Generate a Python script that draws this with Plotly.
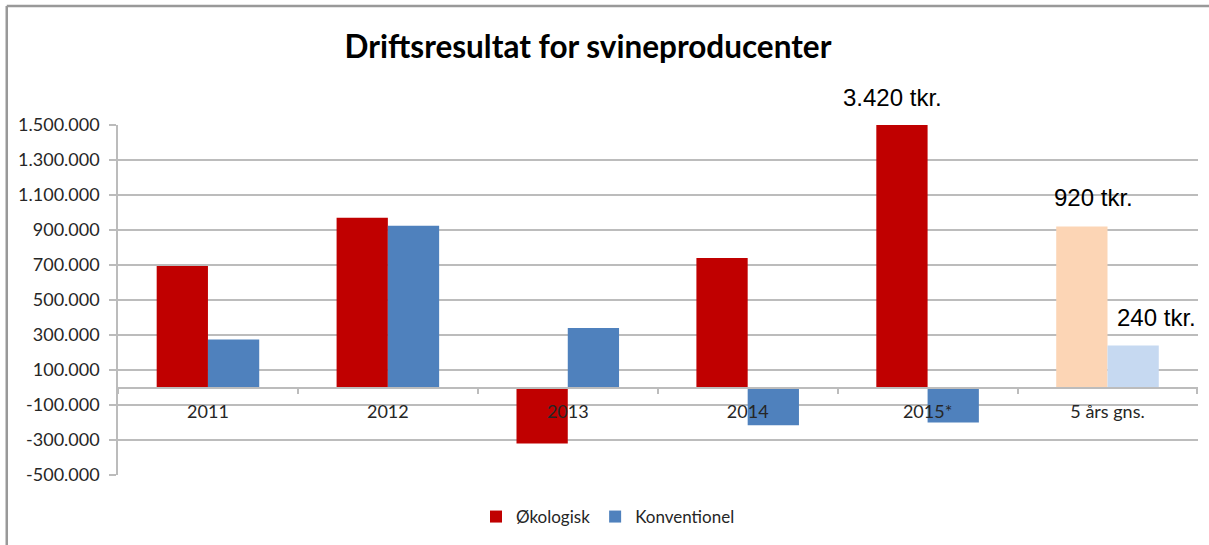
import plotly.graph_objects as go

categories = ["2011", "2012", "2013", "2014", "2015*", "5 års gns."]
okologisk = [695000, 970000, -320000, 740000, 3420000, 920000]
konventionel = [275000, 925000, 340000, -215000, -200000, 240000]
okologisk_colors = ["#C00000"] * 5 + ["#FCD5B5"]
konventionel_colors = ["#4F81BD"] * 5 + ["#C6D9F1"]
y_ticks = list(range(-500000, 1500001, 200000))
y_ticktext = [f"{v:,}".replace(",", ".") for v in y_ticks]
title_text = "Driftsresultat for svineproducenter"
labels = [("3.420 tkr.", "2015*", 1500000, -35, 28),
          ("920 tkr.", "5 års gns.", 920000, -14, 29),
          ("240 tkr.", "5 års gns.", 240000, 49, 28)]

GRID = "#BCBCBC"
FONT = "Lato"

fig = go.Figure()
fig.add_trace(go.Bar(x=categories, y=okologisk, name="Økologisk",
                     marker=dict(color=okologisk_colors, line=dict(width=0))))
fig.add_trace(go.Bar(x=categories, y=konventionel, name="Konventionel",
                     marker=dict(color=konventionel_colors, line=dict(width=0))))

for txt, cat, yv, xs, ys in labels:
    fig.add_annotation(x=cat, y=yv, xref="x", yref="y", text=txt, showarrow=False,
                       xshift=xs, yshift=ys, xanchor="center", yanchor="middle",
                       font=dict(family="Liberation Sans, Arial", size=24, color="#000000"))

# outer chart frame (top and left edges visible)
fig.add_shape(type="line", xref="paper", yref="paper", x0=-0.103, x1=1.05, y0=1.34, y1=1.34,
              line=dict(color="#999999", width=2.5))
fig.add_shape(type="line", xref="paper", yref="paper", x0=-0.103, x1=-0.103, y0=-0.3, y1=1.34,
              line=dict(color="#999999", width=2.5))

fig.update_layout(
    width=1209, height=545,
    margin=dict(l=118, r=11, t=125, b=70, autoexpand=False),
    paper_bgcolor="white", plot_bgcolor="white",
    barmode="group", bargap=0.43, bargroupgap=0,
    title=dict(text=f"<b>{title_text}</b>", xref="container", x=588 / 1209, xanchor="center",
               yref="container", y=1 - 47 / 545, yanchor="middle",
               font=dict(family=FONT, size=31.5, color="#000000")),
    legend=dict(orientation="h", xref="container", x=608 / 1209, xanchor="center",
                yref="container", y=1 - 517 / 545, yanchor="middle",
                font=dict(family=FONT, size=17, color="#262626")),
    font=dict(family=FONT, size=18, color="#262626"),
    showlegend=True,
)
fig.update_xaxes(type="category", anchor="free", position=0.25,
                 showline=True, linecolor=GRID, linewidth=1.5,
                 tickson="boundaries", ticks="outside", ticklen=6, tickcolor=GRID, tickwidth=1.5,
                 showgrid=False, ticklabelstandoff=8,
                 tickfont=dict(family=FONT, size=18, color="#262626"))
fig.update_yaxes(range=[-500000, 1500000], tickvals=y_ticks, ticktext=y_ticktext,
                 showgrid=True, gridcolor=GRID, gridwidth=1.5, zeroline=False,
                 showline=True, linecolor=GRID, linewidth=1.5,
                 ticks="outside", ticklen=7, tickcolor=GRID, tickwidth=1.5,
                 ticklabelstandoff=6,
                 tickfont=dict(family=FONT, size=18, color="#262626"))

fig.write_html("out.html", config={"displayModeBar": False},
               post_script="document.body.style.margin='0';")
